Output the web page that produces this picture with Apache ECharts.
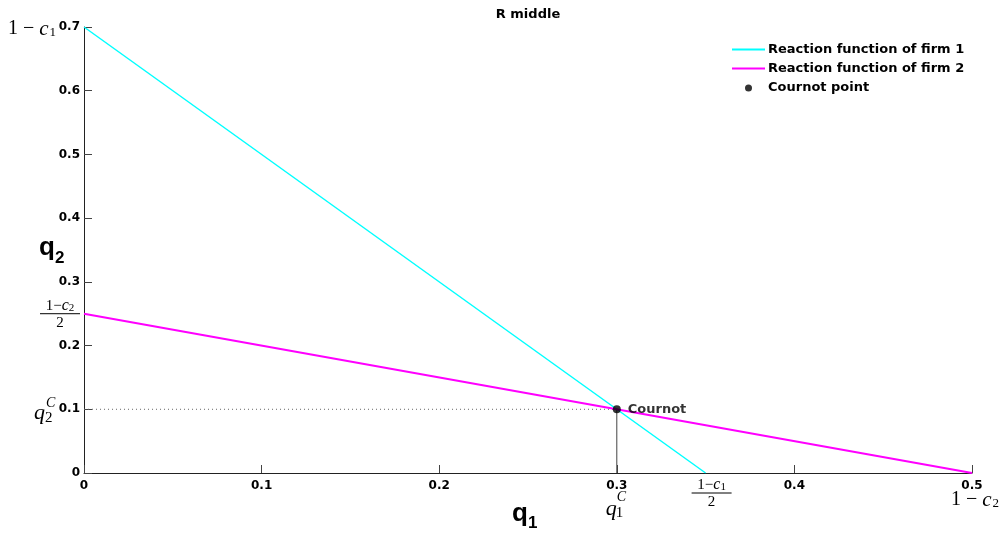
<!DOCTYPE html>
<html><head><meta charset="utf-8">
<script src="https://cdn.jsdelivr.net/npm/echarts@6/dist/echarts.min.js"></script>
<style>html,body{margin:0;padding:0;background:#fff}#c{width:1003px;height:537px}</style>
</head><body><div id="c"></div>
<script>
const titleText = 'R middle';
const seriesNames = ['Reaction function of firm 1','Reaction function of firm 2','Cournot point'];
const firm1 = [[0,0.7],[0.35,0]];
const firm2 = [[0,0.25],[0.5,0]];
const cournot = [[0.3,0.1]];
const cournotLabel = 'Cournot';
const guideH = [[0,0.1],[0.3,0.1]];
const guideV = [[0.3,0],[0.3,0.1]];
const xTicks = {min:0,max:0.5,interval:0.1};
const yTicks = {min:0,max:0.7,interval:0.1};

const chart = echarts.init(document.getElementById('c'));
const sans = 'DejaVu Sans, Arial, sans-serif';
const bold = {fontFamily:sans, fontWeight:'bold', fontSize:12, color:'#000'};
const lineIcon = 'path://M0,0 L33,0 L33,1.8 L0,1.8 Z';
const dotIcon = 'path://M-16,-7 L-16,-7 M16,7 L16,7 M-3.5,0 a3.5,3.5 0 1,0 7,0 a3.5,3.5 0 1,0 -7,0 Z';
const option = {
  animation:false,
  title:{text:titleText,left:523,top:3,textAlign:'center',textStyle:Object.assign({},bold,{fontSize:13})},
  grid:{left:84,right:31,top:27,bottom:64,containLabel:false},
  legend:{orient:'vertical',left:727,top:38,itemWidth:33,itemHeight:14,itemGap:6,symbolKeepAspect:true,
    data:[{name:seriesNames[0],icon:lineIcon},{name:seriesNames[1],icon:lineIcon},{name:seriesNames[2],icon:dotIcon,itemStyle:{color:'#000'}}],
    textStyle:Object.assign({},bold,{fontSize:13,padding:[0,0,0,-2]})},
  xAxis:{type:'value',min:xTicks.min,max:xTicks.max,interval:xTicks.interval,
    axisLine:{onZero:false,lineStyle:{color:'#222',width:1}},
    axisTick:{inside:true,length:8,lineStyle:{color:'#444'}},
    axisLabel:Object.assign({margin:7},bold),splitLine:{show:false}},
  yAxis:{type:'value',min:yTicks.min,max:yTicks.max,interval:yTicks.interval,
    axisLine:{show:true,onZero:false,lineStyle:{color:'#222',width:1}},
    axisTick:{show:true,inside:true,length:8,lineStyle:{color:'#444'}},
    axisLabel:Object.assign({margin:4},bold),splitLine:{show:false}},
  series:[
    {name:seriesNames[0],type:'line',data:firm1,symbol:'none',lineStyle:{color:'#00FFFF',width:1.5},itemStyle:{color:'#00FFFF'},z:3},
    {name:seriesNames[1],type:'line',data:firm2,symbol:'none',lineStyle:{color:'#FF00FF',width:2},itemStyle:{color:'#FF00FF'},z:3},
    {name:'guideH',type:'line',data:guideH,symbol:'none',lineStyle:{color:'#666',width:1,type:[1,3]},z:2,silent:true},
    {name:'guideV',type:'line',data:guideV,symbol:'none',lineStyle:{color:'#444',width:1},z:2,silent:true},
    {name:seriesNames[2],type:'scatter',data:cournot,symbol:'circle',symbolSize:8,itemStyle:{color:'#000'},z:5,
      label:{show:true,position:'right',distance:7,formatter:cournotLabel,fontFamily:sans,fontWeight:'bold',fontSize:13,color:'#000'}}
  ]
};
chart.setOption(option);

const P = (x,y)=>chart.convertToPixel({xAxisIndex:0,yAxisIndex:0},[x,y]);
const serif = 'Liberation Serif, DejaVu Serif, serif';
function t(x,y,text,size,opts){
  return {type:'text',x:x,y:y,style:Object.assign({text:text,fontFamily:serif,fontSize:size,fill:'#000',textAlign:'left',textVerticalAlign:'middle'},opts||{})};
}
function oneMinusC(x,y,sub,size,align){
  return {type:'text',x:x,y:y,style:{
    text:'{n|1 − }{i|c}{s|'+sub+'}',textAlign:align||'left',textVerticalAlign:'middle',
    rich:{n:{fontFamily:serif,fontSize:size,fill:'#000'},i:{fontFamily:serif,fontStyle:'italic',fontSize:size+1,fill:'#000'},
          s:{fontFamily:serif,fontSize:Math.round(size*0.65),fill:'#000',verticalAlign:'bottom',padding:[0,0,0,1]}}}};
}
function frac(cx,cy,sub){
  return [
    {type:'text',x:cx,y:cy-8,style:{text:'{n|1−}{i|c}{s|'+sub+'}',textAlign:'center',textVerticalAlign:'middle',
      rich:{n:{fontFamily:serif,fontSize:15,fill:'#000'},i:{fontFamily:serif,fontStyle:'italic',fontSize:16,fill:'#000'},
            s:{fontFamily:serif,fontSize:11,fill:'#000',verticalAlign:'bottom'}}}},
    {type:'line',shape:{x1:cx-20,y1:cy,x2:cx+20,y2:cy},style:{stroke:'#000',lineWidth:1}},
    {type:'text',x:cx,y:cy+9,style:{text:'2',fontFamily:serif,fontSize:15,fill:'#000',textAlign:'center',textVerticalAlign:'middle'}}
  ];
}
const g=[];
let p=P(0,0.7);
g.push(oneMinusC(p[0]-76,p[1]+2,'1',20));
p=P(0,0.25);
frac(p[0]-24,p[1],'2').forEach(e=>g.push(e));
p=P(0,0.1);
g.push(t(p[0]-50,p[1]+4,'q',22,{fontStyle:'italic'}));
g.push(t(p[0]-39,p[1]+9,'2',15));
g.push(t(p[0]-38,p[1]-6,'C',14,{fontStyle:'italic'}));
p=P(0.3,0);
g.push(t(p[0]-11,p[1]+36,'q',22,{fontStyle:'italic'}));
g.push(t(p[0]-1,p[1]+40,'1',15));
g.push(t(p[0],p[1]+24,'C',14,{fontStyle:'italic'}));
p=P(0.35,0);
frac(p[0]+6,p[1]+20,'1').forEach(e=>g.push(e));
p=P(0.5,0);
g.push(oneMinusC(p[0]+3,p[1]+27,'2',20,'center'));
p=P(0.25,0);
g.push({type:'text',x:p[0]-16,y:p[1]+41,style:{text:'q',fontFamily:'Liberation Sans, Arial, sans-serif',fontWeight:'bold',fontSize:26,fill:'#000',textAlign:'left',textVerticalAlign:'middle'}});
g.push({type:'text',x:p[0],y:p[1]+50,style:{text:'1',fontFamily:'Liberation Sans, Arial, sans-serif',fontWeight:'bold',fontSize:17,fill:'#000',textAlign:'left',textVerticalAlign:'middle'}});
p=P(0,0.35);
g.push({type:'text',x:p[0]-45,y:p[1]-2,style:{text:'q',fontFamily:'Liberation Sans, Arial, sans-serif',fontWeight:'bold',fontSize:26,fill:'#000',textAlign:'left',textVerticalAlign:'middle'}});
g.push({type:'text',x:p[0]-29,y:p[1]+8,style:{text:'2',fontFamily:'Liberation Sans, Arial, sans-serif',fontWeight:'bold',fontSize:17,fill:'#000',textAlign:'left',textVerticalAlign:'middle'}});
chart.setOption({graphic:{elements:g}});
</script>
</body></html>
